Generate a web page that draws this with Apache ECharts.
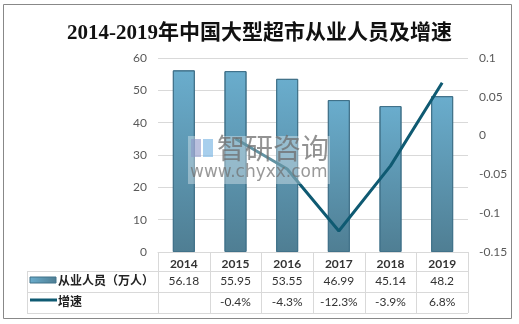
<!DOCTYPE html>
<html><head><meta charset="utf-8">
<script src="https://cdn.jsdelivr.net/npm/echarts@6/dist/echarts.min.js"></script>
<style>html,body{margin:0;padding:0;background:#fff}#c{width:519px;height:324px}</style>
</head><body><div id="c"></div>
<script>
var title = '2014-2019年中国大型超市从业人员及增速';
var categories = ['2014','2015','2016','2017','2018','2019'];
var staff = [56.18, 55.95, 53.55, 46.99, 45.14, 48.2];
var growth = [null, -0.004, -0.043, -0.123, -0.039, 0.068];
var staffLabels = ['56.18','55.95','53.55','46.99','45.14','48.2'];
var growthLabels = ['','-0.4%','-4.3%','-12.3%','-3.9%','6.8%'];
var seriesNames = ['从业人员（万人）','增速'];
var leftTicks = {min:0, max:60, interval:10};
var rightTicks = {min:-0.15, max:0.1, interval:0.05};

var FONT = "Lato, 'Noto Sans CJK SC', sans-serif";
var chart = echarts.init(document.getElementById('c'));
var GL = 158, GR = 468, GT = 58, GB = 252;
var option = {
  animation:false,
  textStyle:{fontFamily:FONT},
  title:{text:title,left:'center',top:18,textStyle:{fontFamily:"'Liberation Serif','Noto Sans CJK SC',serif",fontSize:21,fontWeight:'bold',color:'#111'}},
  grid:{left:GL,right:519-GR,top:GT,bottom:324-GB},
  xAxis:{type:'category',data:categories,
    axisLine:{lineStyle:{color:'#d9d9d9'}},axisTick:{show:false},
    axisLabel:{color:'#333',fontSize:12,fontWeight:'bold',margin:6,fontFamily:FONT}},
  yAxis:[
    {type:'value',min:leftTicks.min,max:leftTicks.max,interval:leftTicks.interval,
     axisLine:{show:false},axisTick:{show:false},
     axisLabel:{color:'#595959',fontSize:12,margin:11},
     splitLine:{lineStyle:{color:'#d9d9d9'}}},
    {type:'value',min:rightTicks.min,max:rightTicks.max,interval:rightTicks.interval,
     axisLine:{show:false},axisTick:{show:false},splitLine:{show:false},
     axisLabel:{color:'#595959',fontSize:12,margin:11}}
  ],
  series:[
    {name:seriesNames[0],type:'bar',data:staff,barWidth:22,
     itemStyle:{borderColor:'#41728a',borderWidth:1,
       color:new echarts.graphic.LinearGradient(0,0,0,1,[{offset:0,color:'#6aadcd'},{offset:1,color:'#4f7e93'}])}},
    {name:seriesNames[1],type:'line',yAxisIndex:1,data:growth,showSymbol:false,
     lineStyle:{color:'#0f5a72',width:3},itemStyle:{color:'#0f5a72'}}
  ]
};
chart.setOption(option);

var g = [];
var lineC = '#d9d9d9';
var rows = [271, 292, 313];
g.push({type:'rect',shape:{x:3.5,y:4.5,width:508,height:314},style:{fill:null,stroke:'#888',lineWidth:1},silent:true});
rows.forEach(function(y){g.push({type:'line',shape:{x1:27,y1:y+0.5,x2:GR,y2:y+0.5},style:{stroke:lineC,lineWidth:1}});});
g.push({type:'line',shape:{x1:27.5,y1:271,x2:27.5,y2:313},style:{stroke:lineC,lineWidth:1}});
var bw = (GR-GL)/categories.length;
for (var i=0;i<=categories.length;i++){
  var x = Math.round(GL + i*bw)+0.5;
  g.push({type:'line',shape:{x1:x,y1:GB,x2:x,y2:313},style:{stroke:lineC,lineWidth:1}});
}
g.push({type:'rect',shape:{x:30,y:277,width:26,height:6},style:{fill:new echarts.graphic.LinearGradient(0,0,1,0,[{offset:0,color:'#6aadcd'},{offset:1,color:'#4f7e93'}]),stroke:'#41728a',lineWidth:1}});
g.push({type:'line',shape:{x1:30,y1:300,x2:57,y2:300},style:{stroke:'#0f5a72',lineWidth:3}});
g.push({type:'text',x:58,y:281,style:{text:seriesNames[0],font:"bold 12px "+FONT,fill:'#222',verticalAlign:'middle'}});
g.push({type:'text',x:58,y:302,style:{text:seriesNames[1],font:"bold 12px "+FONT,fill:'#222',verticalAlign:'middle'}});
for (var j=0;j<categories.length;j++){
  var cx = chart.convertToPixel({xAxisIndex:0}, categories[j]);
  g.push({type:'text',x:cx,y:281,style:{text:staffLabels[j],font:"12px "+FONT,fill:'#333',align:'center',verticalAlign:'middle'}});
  g.push({type:'text',x:cx,y:302,style:{text:growthLabels[j],font:"12px "+FONT,fill:'#333',align:'center',verticalAlign:'middle'}});
}
// watermark (on top)
g.push({type:'rect',z:100,shape:{x:188,y:136,width:142,height:48},style:{fill:'rgba(255,255,255,0.35)'},silent:true});
g.push({type:'rect',z:101,shape:{x:191,y:139,width:10,height:18},style:{fill:'rgba(140,150,200,0.6)'},silent:true});
g.push({type:'rect',z:101,shape:{x:203,y:139,width:10,height:18},style:{fill:'rgba(110,175,225,0.6)'},silent:true});
g.push({type:'text',z:101,x:217,y:148,style:{text:'智研咨询',font:"28px 'Noto Sans CJK SC'",fill:'rgba(110,110,110,0.75)',verticalAlign:'middle'},silent:true});
g.push({type:'text',z:101,x:190,y:173,style:{text:'www.chyxx.com',font:"17px 'DejaVu Sans'",fill:'rgba(110,110,110,0.7)',verticalAlign:'middle'},silent:true});
chart.setOption({graphic:g});
</script></body></html>
